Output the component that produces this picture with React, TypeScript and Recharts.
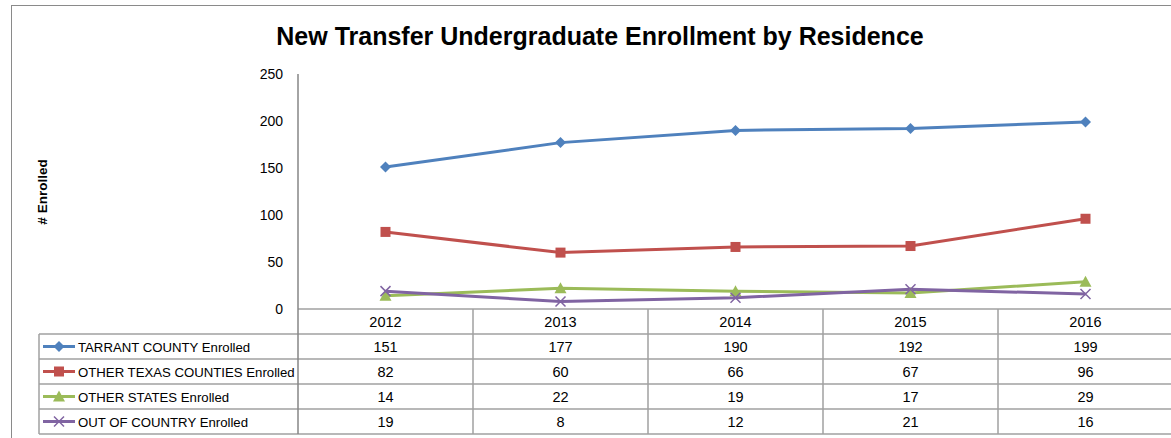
import { LineChart, Line, XAxis, YAxis } from 'recharts';

const years = ['2012', '2013', '2014', '2015', '2016'];
const tarrant = [151, 177, 190, 192, 199];
const otherTexas = [82, 60, 66, 67, 96];
const otherStates = [14, 22, 19, 17, 29];
const outOfCountry = [19, 8, 12, 21, 16];
const yTicks = [0, 50, 100, 150, 200, 250];

const seriesList = [
  { key: 'tarrant', name: 'TARRANT COUNTY Enrolled', color: '#4F81BD', shape: 'diamond', values: tarrant },
  { key: 'otherTexas', name: 'OTHER TEXAS COUNTIES Enrolled', color: '#C0504D', shape: 'square', values: otherTexas },
  { key: 'otherStates', name: 'OTHER STATES Enrolled', color: '#9BBB59', shape: 'triangle', values: otherStates },
  { key: 'outOfCountry', name: 'OUT OF COUNTRY Enrolled', color: '#8064A2', shape: 'x', values: outOfCountry },
];

const data = years.map((year, i) => {
  const row: any = { year };
  seriesList.forEach((s) => {
    row[s.key] = s.values[i];
  });
  return row;
});

const FONT = '"Liberation Sans", Arial, sans-serif';

const Marker = ({ cx, cy, shape, color }: any) => {
  if (cx == null || cy == null) return null;
  if (shape === 'diamond') {
    return <path d={`M${cx},${cy - 5.5}L${cx + 5.5},${cy}L${cx},${cy + 5.5}L${cx - 5.5},${cy}Z`} fill={color} />;
  }
  if (shape === 'square') {
    return <rect x={cx - 5} y={cy - 5} width={10} height={10} fill={color} />;
  }
  if (shape === 'triangle') {
    return <path d={`M${cx},${cy - 6}L${cx + 6},${cy + 5}L${cx - 6},${cy + 5}Z`} fill={color} />;
  }
  return (
    <path d={`M${cx - 5},${cy - 5}L${cx + 5},${cy + 5}M${cx + 5},${cy - 5}L${cx - 5},${cy + 5}`} stroke={color} strokeWidth={1.5} fill="none" />
  );
};

// table geometry (aligned with the plot area)
const plotLeft = 298;
const colW = 175;
const headerTop = 309;
const rowH = 25;
const legendLeft = 39;
const gridColor = '#a0a0a0';

const DataTable = () => {
  const rowsBottom = headerTop + rowH * (seriesList.length + 1);
  return (
    <svg width={1171} height={438} style={{ position: 'absolute', left: 0, top: 0, pointerEvents: 'none' }}>
      <line x1={plotLeft} x2={1171} y1={headerTop} y2={headerTop} stroke={gridColor} strokeWidth={1.5} />
      {seriesList.map((_, i) => {
        const y = headerTop + rowH * (i + 1);
        return <line key={'h' + i} x1={legendLeft} x2={1171} y1={y} y2={y} stroke={gridColor} strokeWidth={1.5} />;
      })}
      <line x1={legendLeft} x2={1171} y1={rowsBottom} y2={rowsBottom} stroke={gridColor} strokeWidth={1.5} />
      <line x1={legendLeft} x2={legendLeft} y1={headerTop + rowH} y2={rowsBottom} stroke={gridColor} strokeWidth={1.5} />
      {years.map((_, i) => {
        const x = plotLeft + colW * i;
        return <line key={'v' + i} x1={x} x2={x} y1={i === 0 ? 74 : headerTop} y2={rowsBottom} stroke={i === 0 ? '#868686' : gridColor} strokeWidth={1.5} />;
      })}
      {years.map((y, i) => (
        <text key={'y' + y} x={plotLeft + colW * i + colW / 2} y={headerTop + rowH / 2 + 5} textAnchor="middle" fontSize={14.5} fontFamily={FONT} fill="#000">
          {y}
        </text>
      ))}
      {seriesList.map((s, r) => {
        const cy = headerTop + rowH * (r + 1) + rowH / 2;
        return (
          <g key={s.key}>
            <line x1={43} x2={75} y1={cy} y2={cy} stroke={s.color} strokeWidth={3} />
            <Marker cx={59} cy={cy} shape={s.shape} color={s.color} />
            <text x={78} y={cy + 5} fontSize={13.2} fontFamily={FONT} fill="#000">
              {s.name}
            </text>
            {s.values.map((v, i) => (
              <text key={i} x={plotLeft + colW * i + colW / 2} y={cy + 5} textAnchor="middle" fontSize={14.5} fontFamily={FONT} fill="#000">
                {v}
              </text>
            ))}
          </g>
        );
      })}
    </svg>
  );
};

const App = () => {
  return (
    <div style={{ position: 'absolute', left: 0, top: 0, width: 1171, height: 438, overflow: 'hidden', background: '#fff', fontFamily: FONT }}>
      <div style={{ position: 'absolute', left: 11, top: 5, width: 1300, height: 600, border: '1.5px solid #8a8a8a' }} />
      <div style={{ position: 'absolute', left: 600, top: 22, transform: 'translateX(-50%)', whiteSpace: 'nowrap', fontSize: 25, fontWeight: 'bold', color: '#000' }}>
        New Transfer Undergraduate Enrollment by Residence
      </div>
      <div style={{ position: 'absolute', left: 42, top: 192, transform: 'translate(-50%, -50%) rotate(-90deg)', fontSize: 13.5, fontWeight: 'bold', whiteSpace: 'nowrap' }}>
        # Enrolled
      </div>
      <div style={{ position: 'absolute', left: 0, top: 0 }}>
        <LineChart width={1180} height={438} data={data} margin={{ top: 74, right: 7, bottom: 129, left: 238 }}>
          <XAxis dataKey="year" hide padding={{ left: colW / 2, right: colW / 2 }} />
          <YAxis
            width={60}
            domain={[0, 250]}
            ticks={yTicks}
            axisLine={false}
            tickLine={false}
            tickMargin={9}
            tick={{ fontSize: 14, fill: '#000', fontFamily: FONT }}
          />
          {seriesList.map((s) => (
            <Line
              key={s.key}
              dataKey={s.key}
              name={s.name}
              type="linear"
              stroke={s.color}
              strokeWidth={3}
              dot={(p: any) => <Marker key={p.index} cx={p.cx} cy={p.cy} shape={s.shape} color={s.color} />}
              activeDot={false}
              isAnimationActive={false}
            />
          ))}
        </LineChart>
      </div>
      <DataTable />
    </div>
  );
};

export default App;
